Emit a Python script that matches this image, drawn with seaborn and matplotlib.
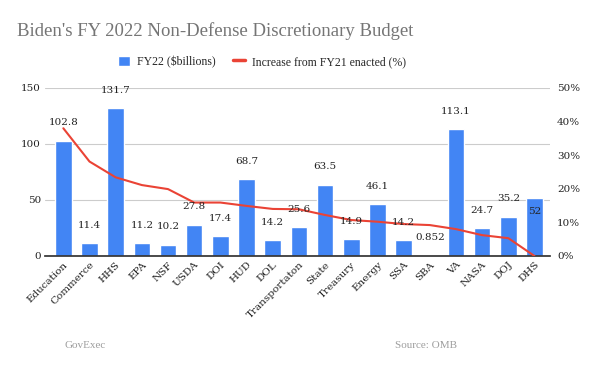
import matplotlib
matplotlib.use('Agg')
import matplotlib.pyplot as plt
import numpy as np
import pandas as pd
import seaborn as sns
from matplotlib.patches import Patch
from matplotlib.lines import Line2D
from matplotlib.ticker import FuncFormatter

sns.set_theme(style='white')
plt.rcParams['font.family'] = ['DejaVu Serif']

# data
agencies = ['Education', 'Commerce', 'HHS', 'EPA', 'NSF', 'USDA', 'DOI', 'HUD', 'DOL',
            'Transportaton', 'State', 'Treasury', 'Energy', 'SSA', 'SBA', 'VA', 'NASA',
            'DOJ', 'DHS']
fy22_billions = [102.8, 11.4, 131.7, 11.2, 10.2, 27.8, 17.4, 68.7, 14.2,
                 25.6, 63.5, 14.9, 46.1, 14.2, 0.852, 113.1, 24.7, 35.2, 52]
increase_pct = [38.0, 28.1, 23.4, 21.1, 19.9, 15.9, 15.9, 14.9, 14.0,
                13.9, 12.2, 10.7, 10.2, 9.5, 9.2, 8.0, 6.2, 5.3, 0.0]

df = pd.DataFrame({'agency': agencies, 'fy22': fy22_billions, 'pct': increase_pct})

blue = '#4285F4'
red = '#EA4335'
grey_txt = '#757575'

fig = plt.figure(figsize=(6, 3.71), dpi=100)
ax = fig.add_axes([0.075, 0.31, 0.842, 0.453])

sns.barplot(data=df, x='agency', y='fy22', color=blue, width=0.63,
            saturation=1, ax=ax)
ax.set_ylim(0, 150)
ax.set_yticks([0, 50, 100, 150])
ax.yaxis.grid(True, color='#cccccc', linewidth=0.8)
ax.set_axisbelow(True)
ax.set_xlabel('')
ax.set_ylabel('')
for s in ['top', 'right', 'left']:
    ax.spines[s].set_visible(False)
ax.spines['bottom'].set_color('#333333')
ax.tick_params(axis='both', length=0, labelsize=7.5, colors='#222222')
ax.tick_params(axis='y', pad=3)
ax.tick_params(axis='x', pad=3)
plt.setp(ax.get_xticklabels(), rotation=45, ha='right', rotation_mode='anchor')

ax2 = ax.twinx()
sns.lineplot(data=df, x='agency', y='pct', color=red, linewidth=1.5, ax=ax2,
             sort=False)
ax2.set_ylim(0, 50)
ax2.set_yticks([0, 10, 20, 30, 40, 50])
ax2.yaxis.set_major_formatter(FuncFormatter(lambda v, p: f'{v:.0f}%'))
ax2.set_ylabel('')
for s in ['top', 'right', 'left', 'bottom']:
    ax2.spines[s].set_visible(False)
ax2.tick_params(axis='y', length=0, labelsize=7.5, colors='#222222', pad=5)
ax.set_xlim(-0.7, 18.6)

# data labels, drawn above the line
for i, v in enumerate(df['fy22']):
    off = -14 if df['agency'][i] == 'DHS' else 18
    ax2.annotate(f'{v:g}', (i, v), xycoords=ax.transData, xytext=(0, off),
                 textcoords='offset pixels', ha='center', va='center',
                 fontsize=7.5, color='#222222', zorder=5)

fig.text(0.028, 0.915, "Biden's FY 2022 Non-Defense Discretionary Budget",
         fontsize=13.5, color=grey_txt, va='center', family='Liberation Serif')

handles = [Patch(facecolor=blue, label='FY22 ($billions)'),
           Line2D([0], [0], color=red, linewidth=2.5, label='Increase from FY21 enacted (%)')]
fig.legend(handles=handles, loc='center', bbox_to_anchor=(0.437, 0.833), ncol=2,
           frameon=False, handlelength=1.0, handleheight=1.0,
           columnspacing=1.5, handletextpad=0.6,
           prop={'family': 'Liberation Serif', 'size': 8.5})

fig.text(0.108, 0.07, 'GovExec', fontsize=8, color='#9e9e9e', va='center',
         family='Liberation Serif')
fig.text(0.658, 0.07, 'Source: OMB', fontsize=8, color='#9e9e9e', va='center',
         family='Liberation Serif')

fig.savefig('out.png', dpi=100, facecolor='white')
